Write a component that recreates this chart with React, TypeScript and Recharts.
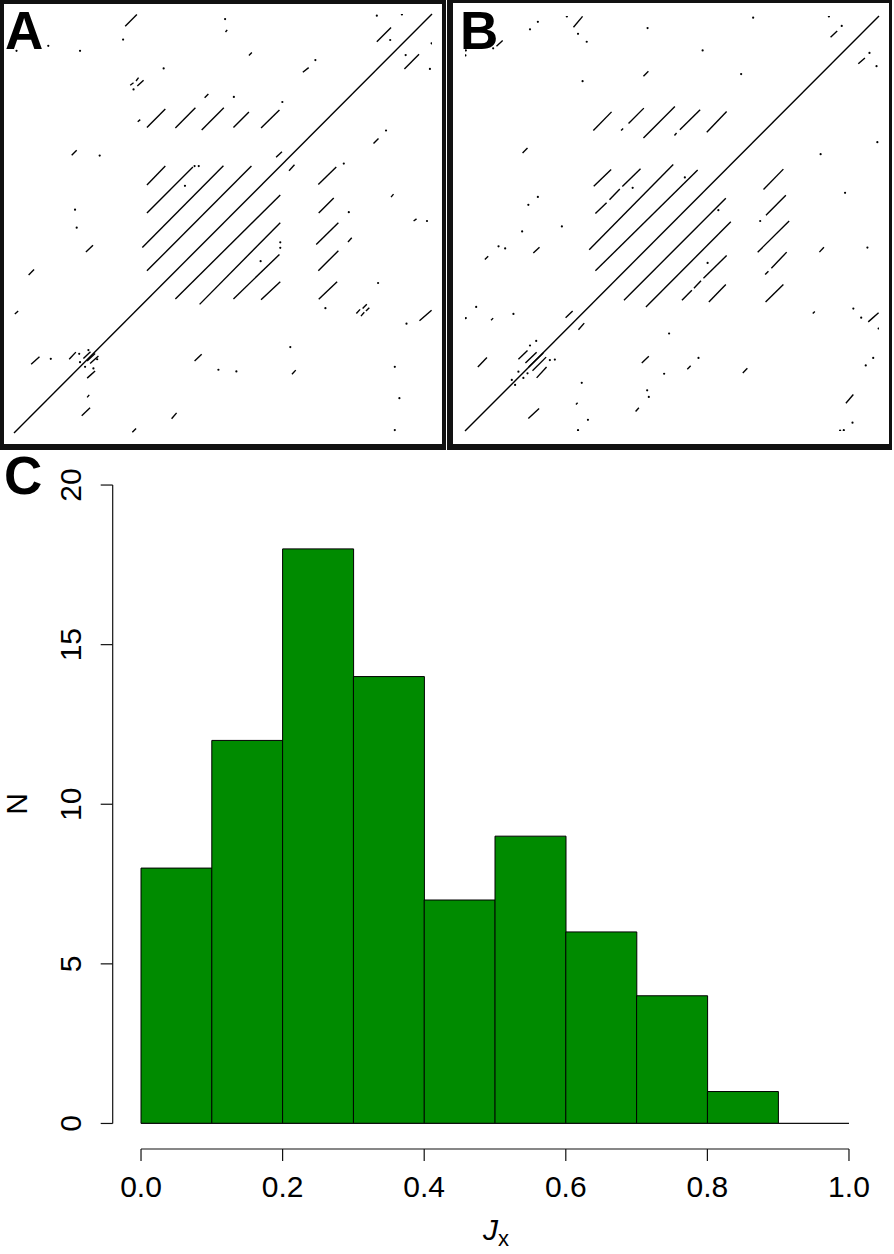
import React from 'react';
import {
  ScatterChart, Scatter, BarChart, Bar, XAxis, YAxis, ReferenceLine,
} from 'recharts';

const FONT = '"Liberation Sans", Arial, Helvetica, sans-serif';

// dot plot A: segments [x1, y1, x2, y2] and isolated dots [x, y] (0..100 scale)
const segmentsA: number[][] = [
  [0, 0, 100, 100],
  [26.6, 97.1, 29.4, 99.9], [50.6, 95.7, 51.0, 96.2], [86.8, 93.4, 90.2, 96.8],
  [93.4, 86.9, 96.9, 90.4], [56.2, 90.1, 56.9, 90.8], [69.1, 86.1, 70.5, 87.2],
  [27.8, 83.0, 28.6, 83.6], [29.2, 84.0, 29.8, 84.8], [29.5, 82.8, 31.0, 84.2],
  [45.6, 80.0, 46.5, 80.9], [29.6, 74.3, 30.2, 74.8],
  [31.8, 72.9, 36.2, 77.3], [38.6, 72.8, 43.4, 77.6], [44.9, 72.3, 50.2, 77.6],
  [52.5, 72.9, 56.2, 76.6], [59.1, 72.8, 63.5, 77.1],
  [86.0, 69.1, 87.2, 70.3], [13.8, 66.3, 15.0, 67.5], [62.7, 65.8, 64.1, 67.1],
  [65.8, 62.6, 67.1, 64.0],
  [31.8, 59.2, 36.2, 63.7], [31.8, 52.5, 42.8, 63.5], [30.7, 44.3, 50.1, 63.8],
  [31.8, 38.7, 56.8, 63.7], [38.6, 32.0, 63.7, 56.8], [44.4, 30.7, 63.7, 50.2],
  [52.5, 32.0, 63.5, 42.6], [59.1, 31.8, 63.7, 36.1],
  [72.8, 59.3, 77.1, 63.5], [72.9, 52.5, 76.5, 56.1], [72.3, 45.0, 77.6, 50.2],
  [72.8, 38.7, 77.6, 43.5], [72.9, 31.9, 77.3, 36.1],
  [90.2, 56.3, 90.8, 57.0], [95.6, 50.6, 96.3, 51.1], [79.9, 45.6, 80.8, 46.6],
  [17.2, 43.2, 18.9, 44.8], [3.5, 37.7, 4.8, 39.0],
  [81.9, 28.5, 82.8, 29.5], [83.0, 27.9, 83.8, 28.8], [83.4, 29.7, 84.4, 30.7],
  [84.2, 29.1, 85.0, 29.9], [97.0, 26.8, 99.9, 29.3], [0.2, 28.4, 1.0, 29.1],
  [4.1, 16.4, 6.1, 18.2], [13.2, 17.6, 14.8, 19.3], [16.6, 17.8, 18.3, 19.4],
  [17.5, 17.2, 19.4, 19.0], [18.2, 16.6, 20.2, 18.4], [17.5, 13.1, 19.4, 14.8],
  [17.5, 8.5, 18.0, 9.1], [16.2, 4.1, 18.2, 6.0], [28.3, 0.2, 29.2, 1.1],
  [43.2, 17.2, 44.9, 18.8], [37.7, 3.4, 38.9, 4.8], [66.5, 14.0, 67.4, 15.0],
];
const dotsA: number[][] = [
  [26.1, 93.9], [8.2, 92.4], [0.6, 91.2], [15.8, 91.2], [50.5, 98.8], [86.8, 99.6],
  [92.8, 99.9], [90.0, 93.8], [93.7, 90.2], [99.9, 93.0], [99.5, 86.9], [72.1, 89.0],
  [35.8, 87.0], [28.6, 82.0], [52.6, 80.2], [64.2, 79.0], [89.0, 72.2], [20.5, 66.2],
  [78.9, 64.3], [43.2, 63.7], [44.2, 63.7], [40.9, 59.0], [63.7, 44.2], [63.7, 45.5],
  [59.0, 41.0], [74.5, 29.8], [80.1, 52.7], [98.8, 50.6], [14.6, 53.3], [15.0, 49.0],
  [87.1, 35.8], [93.9, 26.1], [8.8, 17.7], [15.6, 18.9], [17.8, 19.8], [15.8, 16.9],
  [17.0, 15.8], [19.0, 15.4], [19.9, 17.6], [48.9, 15.1], [53.2, 14.7], [66.1, 20.5],
  [91.1, 15.8], [92.2, 8.3], [91.1, 0.7],
];

// dot plot B
const segmentsB: number[][] = [
  [0, 0, 100, 100],
  [26.2, 97.3, 28.4, 99.9], [7.6, 92.7, 9.1, 94.1], [88.3, 94.9, 89.9, 96.4],
  [95.0, 88.5, 96.6, 89.9], [43.1, 85.5, 44.3, 86.7],
  [31.0, 72.4, 35.4, 76.9], [37.7, 72.4, 38.2, 72.9], [39.5, 74.1, 43.2, 77.8],
  [43.1, 70.6, 50.7, 78.2], [50.6, 71.2, 51.1, 71.8], [51.9, 72.6, 56.8, 77.4],
  [58.4, 72.0, 63.2, 77.0], [13.9, 67.0, 15.1, 68.2],
  [31.1, 59.0, 35.3, 63.0],
  [31.5, 52.4, 34.2, 55.0], [34.9, 55.7, 37.4, 58.3], [38.0, 58.9, 42.4, 63.2],
  [30.0, 43.7, 50.3, 64.2], [31.5, 38.6, 56.2, 62.9], [38.4, 31.5, 63.0, 56.1],
  [43.7, 29.9, 64.2, 50.4],
  [52.4, 31.5, 54.8, 33.9], [55.3, 34.4, 57.0, 36.2], [57.6, 36.8, 63.2, 42.3],
  [58.9, 31.1, 63.0, 35.3],
  [72.1, 58.2, 76.9, 63.1], [72.7, 52.0, 77.5, 56.8], [70.7, 43.1, 78.3, 50.6],
  [72.5, 37.7, 73.3, 38.5], [74.0, 39.2, 77.7, 43.1], [72.6, 31.1, 76.9, 35.3],
  [85.6, 43.1, 86.7, 44.3], [16.5, 42.9, 18.0, 44.3], [4.8, 41.3, 5.6, 42.1],
  [6.3, 26.7, 6.8, 27.2], [24.3, 27.3, 26.0, 28.9], [27.4, 24.4, 28.8, 26.0],
  [84.0, 28.3, 84.5, 28.8], [97.4, 26.3, 99.9, 28.5],
  [3.1, 15.4, 5.3, 17.7], [12.9, 17.3, 15.1, 19.4], [14.6, 16.4, 17.3, 19.0],
  [15.4, 15.4, 18.9, 18.8], [16.3, 14.5, 19.6, 17.8], [17.3, 12.8, 19.7, 15.4],
  [26.8, 6.4, 27.2, 6.8], [15.3, 3.0, 17.9, 5.4], [42.7, 16.4, 44.4, 18.0],
  [53.7, 14.9, 54.5, 15.7], [41.2, 4.7, 42.0, 5.6], [67.1, 14.0, 68.2, 15.1],
  [92.0, 6.7, 93.8, 8.8],
];
const dotsB: number[][] = [
  [24.6, 99.9], [17.6, 98.6], [15.7, 96.8], [27.3, 95.7], [29.4, 93.8], [0.2, 91.7],
  [0.1, 90.5], [6.8, 92.2], [44.1, 97.1], [69.6, 99.6], [87.9, 99.9], [91.0, 97.6],
  [97.7, 91.1], [99.4, 87.9], [57.4, 91.7], [28.4, 84.3], [66.7, 86.0], [85.9, 66.7],
  [99.6, 69.6], [40.5, 58.6], [53.1, 61.1], [61.2, 53.2], [58.6, 40.5], [71.3, 50.6],
  [91.8, 57.4], [97.2, 44.2], [17.6, 56.4], [15.3, 54.5], [13.8, 48.1], [23.4, 49.3],
  [8.1, 44.5], [9.7, 44.0], [2.7, 29.9], [0.2, 27.2], [11.7, 28.2], [93.8, 29.5],
  [95.7, 27.3], [99.9, 24.7], [49.3, 23.5], [15.7, 20.6], [17.2, 21.7], [20.5, 17.1],
  [21.7, 17.2], [12.9, 14.3], [11.3, 12.3], [12.1, 11.1], [15.1, 13.9], [14.1, 12.8],
  [28.2, 11.6], [29.7, 2.7], [27.3, 0.2], [48.1, 13.8], [56.4, 17.6], [44.0, 9.8],
  [44.4, 8.2], [96.8, 15.8], [98.6, 17.6], [93.6, 2.0], [90.6, 0.1], [91.5, 0.2],
];

// histogram C
const binStarts = [0.0, 0.1, 0.2, 0.3, 0.4, 0.5, 0.6, 0.7, 0.8, 0.9];
const counts = [8, 12, 18, 14, 7, 9, 6, 4, 1, 0];
const xTicks = [0, 0.2, 0.4, 0.6, 0.8, 1.0];
const yTicks = [0, 5, 10, 15, 20];

const histData = binStarts.map((b, i) => ({
  bin: b.toFixed(1),
  mid: b + 0.05,
  count: counts[i],
}));

const Dot = (props: any) => <circle cx={props.cx} cy={props.cy} r={1.1} fill="#000" />;

const DotPlot = ({ segments, dots, left, width, height, margin }: any) => (
  <div style={{ position: 'absolute', left, top: 0 }}>
    <ScatterChart width={width} height={height} margin={margin}>
      <XAxis type="number" dataKey="x" domain={[0, 100]} hide allowDataOverflow />
      <YAxis type="number" dataKey="y" domain={[0, 100]} hide allowDataOverflow />
      {segments.map((s: number[], i: number) => (
        <ReferenceLine
          key={i}
          segment={[{ x: s[0], y: s[1] }, { x: s[2], y: s[3] }]}
          stroke="#000"
          strokeWidth={1.4}
          ifOverflow="visible"
        />
      ))}
      <Scatter
        data={dots.map((d: number[]) => ({ x: d[0], y: d[1] }))}
        shape={Dot}
        isAnimationActive={false}
      />
    </ScatterChart>
  </div>
);

const YTick = (props: any) => {
  const { x, y, payload } = props;
  return (
    <text
      transform={`translate(${x},${y}) rotate(-90)`}
      textAnchor="middle"
      fontSize={30}
      fontFamily={FONT}
      fill="#000"
    >
      {payload.value}
    </text>
  );
};

const App = () => {
  return (
    <div style={{ position: 'absolute', left: 0, top: 0, width: 894, height: 1254, background: '#fff' }}>
      <DotPlot
        segments={segmentsA}
        dots={dotsA}
        left={0}
        width={447}
        height={449}
        margin={{ top: 14, left: 14, right: 15, bottom: 16 }}
      />
      <DotPlot
        segments={segmentsB}
        dots={dotsB}
        left={447}
        width={447}
        height={449}
        margin={{ top: 16, left: 18, right: 15, bottom: 18 }}
      />
      <div style={{
        position: 'absolute', left: 0, top: 0, width: 446, height: 450, boxSizing: 'border-box',
        border: '4px solid #111', borderBottom: '6px solid #111', pointerEvents: 'none',
      }} />
      <div style={{
        position: 'absolute', left: 447, top: 0, width: 445, height: 450, boxSizing: 'border-box',
        borderTop: '3px solid #111', borderRight: '3px solid #111', borderBottom: '6px solid #111',
        borderLeft: '6px solid #111', pointerEvents: 'none',
      }} />

      <div style={{ position: 'absolute', left: 0, top: 450 }}>
        <BarChart
          width={894}
          height={804}
          data={histData}
          barCategoryGap={0}
          barGap={0}
          margin={{ top: 9.5, left: 52.7, right: 16.7, bottom: 45 }}
        >
          <XAxis
            xAxisId="num"
            type="number"
            dataKey="mid"
            domain={[-0.04, 1.04]}
            allowDataOverflow
            ticks={xTicks}
            tickFormatter={(v: number) => v.toFixed(1)}
            axisLine={false}
            tickLine={{ stroke: '#111', strokeWidth: 1.2 }}
            tickSize={12}
            tickMargin={15}
            height={60}
            interval={0}
            tick={{ fontSize: 30, fill: '#000', fontFamily: FONT }}
          />
          <XAxis xAxisId="bins" dataKey="bin" hide height={0} padding={{ left: 28.3, right: 28.3 }} />
          <YAxis
            type="number"
            domain={[-0.8, 20.8]}
            allowDataOverflow
            ticks={yTicks}
            axisLine={false}
            tickLine={{ stroke: '#111', strokeWidth: 1.2 }}
            tickSize={12}
            tickMargin={20}
            width={60}
            interval={0}
            tick={YTick}
          />
          <Bar
            xAxisId="bins"
            dataKey="count"
            fill="#008B00"
            stroke="#000"
            strokeWidth={1}
            isAnimationActive={false}
          />
          <ReferenceLine
            xAxisId="num"
            segment={[{ x: 0, y: 0 }, { x: 1, y: 0 }]}
            stroke="#111"
            strokeWidth={1.2}
            ifOverflow="visible"
          />
          <ReferenceLine
            xAxisId="num"
            segment={[{ x: 0, y: -0.8 }, { x: 1, y: -0.8 }]}
            stroke="#111"
            strokeWidth={1.2}
            ifOverflow="visible"
          />
          <ReferenceLine
            xAxisId="num"
            segment={[{ x: -0.04, y: 0 }, { x: -0.04, y: 20 }]}
            stroke="#111"
            strokeWidth={1.2}
            ifOverflow="visible"
          />
        </BarChart>
      </div>

      <svg width={894} height={1254} style={{ position: 'absolute', left: 0, top: 0, pointerEvents: 'none' }}>
        <text x={5} y={49} fontSize={53} fontWeight="bold" fontFamily={FONT} fill="#000">A</text>
        <text x={460} y={49} fontSize={53} fontWeight="bold" fontFamily={FONT} fill="#000">B</text>
        <text x={4} y={494} fontSize={53} fontWeight="bold" fontFamily={FONT} fill="#000">C</text>
        <text transform="translate(27,804) rotate(-90)" textAnchor="middle" fontSize={30} fontFamily={FONT} fill="#000">N</text>
        <text x={496} y={1240} textAnchor="middle" fontSize={30} fontFamily={FONT} fill="#000">
          <tspan fontStyle="italic">J</tspan>
          <tspan fontSize={22} dy={6}>x</tspan>
        </text>
      </svg>
    </div>
  );
};

export default App;
